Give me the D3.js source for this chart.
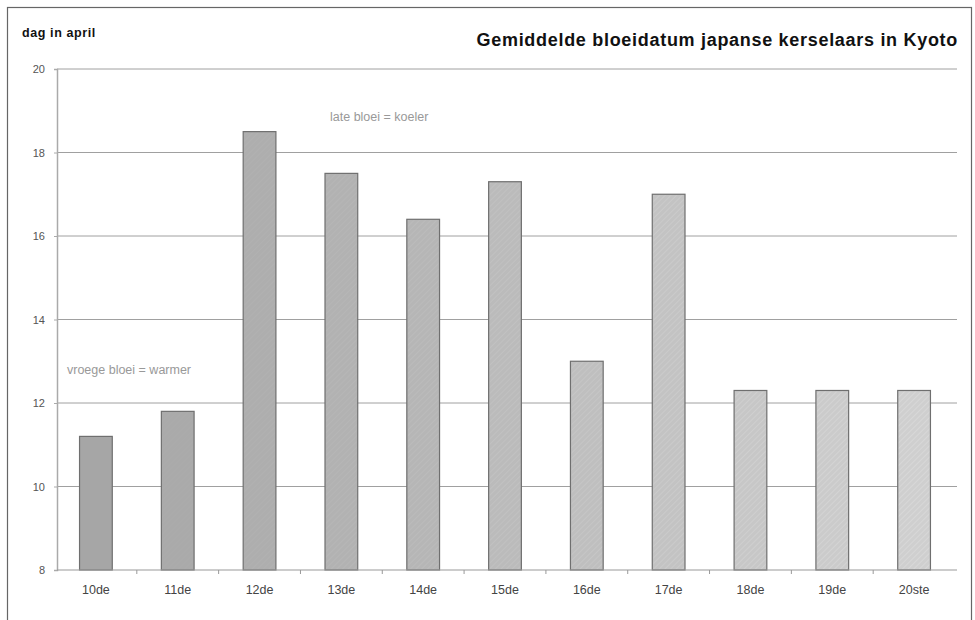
<!DOCTYPE html>
<html>
<head>
<meta charset="utf-8">
<script src="https://cdn.jsdelivr.net/npm/d3@7"></script>
<style>
  html, body { margin: 0; padding: 0; background: #fff; }
  svg { display: block; font-family: "Liberation Sans", Arial, sans-serif; }
</style>
</head>
<body>
<svg id="chart" width="975" height="620"></svg>
<script>
// Average blossom day (in April) of Japanese cherry trees in Kyoto, per century
const categories = ["10de", "11de", "12de", "13de", "14de", "15de", "16de", "17de", "18de", "19de", "20ste"];
const bloomDay = [11.2, 11.8, 18.5, 17.5, 16.4, 17.3, 13.0, 17.0, 12.3, 12.3, 12.3];
const yTicks = [8, 10, 12, 14, 16, 18, 20];

const svg = d3.select("#chart");
const margin = { left: 57, right: 957, top: 69, bottom: 570 };

const x = d3.scaleBand().domain(categories).range([55, 955]).paddingInner(0.6).paddingOuter(0.3);
const y = d3.scaleLinear().domain([8, 20]).range([margin.bottom, margin.top]);

// outer frame
svg.append("rect").attr("x", 7.5).attr("y", 7.5).attr("width", 964).attr("height", 640)
  .attr("fill", "none").attr("stroke", "#666").attr("stroke-width", 1.2);

// hatch pattern for the bars
const defs = svg.append("defs");
const pat = defs.append("pattern").attr("id", "hatch").attr("patternUnits", "userSpaceOnUse")
  .attr("width", 4).attr("height", 4).attr("patternTransform", "rotate(45)");
pat.append("line").attr("x1", 0).attr("y1", 0).attr("x2", 0).attr("y2", 4)
  .attr("stroke", "#fff").attr("stroke-width", 1).attr("stroke-opacity", 0.35);

// gridlines
svg.append("g").selectAll("line").data(yTicks.filter(d => d > 8)).join("line")
  .attr("x1", margin.left).attr("x2", margin.right)
  .attr("y1", d => y(d)).attr("y2", d => y(d))
  .attr("stroke", "#a0a0a0").attr("stroke-width", 1);

// y axis
const yAxis = svg.append("g").attr("transform", `translate(${margin.left},0)`)
  .call(d3.axisLeft(y).tickValues(yTicks).tickSize(3).tickPadding(9).tickFormat(d3.format("d")));
yAxis.select(".domain").attr("stroke", "#aaa").attr("stroke-width", 1.5);
yAxis.selectAll(".tick line").attr("stroke", "#aaa");
yAxis.selectAll("text").attr("fill", "#555").attr("font-size", 11).attr("font-family", "Liberation Sans, Arial, sans-serif");

// bars
const shade = d3.scaleLinear().domain([0, categories.length - 1]).range(["#a6a6a6", "#cfcfcf"]);
const bars = svg.append("g");
bars.selectAll("rect.bar").data(bloomDay).join("rect").attr("class", "bar")
  .attr("x", (d, i) => x(categories[i])).attr("width", x.bandwidth())
  .attr("y", d => y(d)).attr("height", d => y(8) - y(d))
  .attr("fill", (d, i) => shade(i)).attr("stroke", "#6f6f6f").attr("stroke-width", 1.2);
bars.selectAll("rect.hatch").data(bloomDay).join("rect").attr("class", "hatch")
  .attr("x", (d, i) => x(categories[i]) + 1).attr("width", x.bandwidth() - 2)
  .attr("y", d => y(d) + 1).attr("height", d => y(8) - y(d) - 2)
  .attr("fill", "url(#hatch)").attr("opacity", (d, i) => i / (categories.length - 1));

// x axis
const xTicksScale = d3.scaleLinear().domain([0, categories.length]).range([55, 955]);
const xAxis = svg.append("g").attr("transform", `translate(0,${margin.bottom})`);
xAxis.append("line").attr("x1", margin.left).attr("x2", margin.right)
  .attr("stroke", "#999").attr("stroke-width", 1.2);
xAxis.selectAll("line.tk").data(d3.range(1, categories.length)).join("line").attr("class", "tk")
  .attr("x1", d => xTicksScale(d)).attr("x2", d => xTicksScale(d))
  .attr("y1", 0).attr("y2", 4).attr("stroke", "#999");
xAxis.selectAll("text").data(categories).join("text")
  .attr("x", d => x(d) + x.bandwidth() / 2).attr("y", 24)
  .attr("text-anchor", "middle").attr("fill", "#444").attr("font-size", 12.5)
  .text(d => d);

// titles
svg.append("text").attr("x", 22).attr("y", 37).attr("font-size", 12.5).attr("font-weight", "bold")
  .attr("letter-spacing", 0.6).attr("fill", "#111").text("dag in april");
svg.append("text").attr("x", 958).attr("y", 46).attr("text-anchor", "end").attr("font-size", 18)
  .attr("letter-spacing", 0.7).attr("font-weight", "bold").attr("fill", "#111")
  .text("Gemiddelde bloeidatum japanse kerselaars in Kyoto");

// annotations
svg.append("text").attr("x", 330).attr("y", 121).attr("font-size", 12.5).attr("fill", "#999")
  .text("late bloei = koeler");
svg.append("text").attr("x", 67).attr("y", 374).attr("font-size", 12.5).attr("fill", "#999")
  .text("vroege bloei = warmer");
</script>
</body>
</html>
